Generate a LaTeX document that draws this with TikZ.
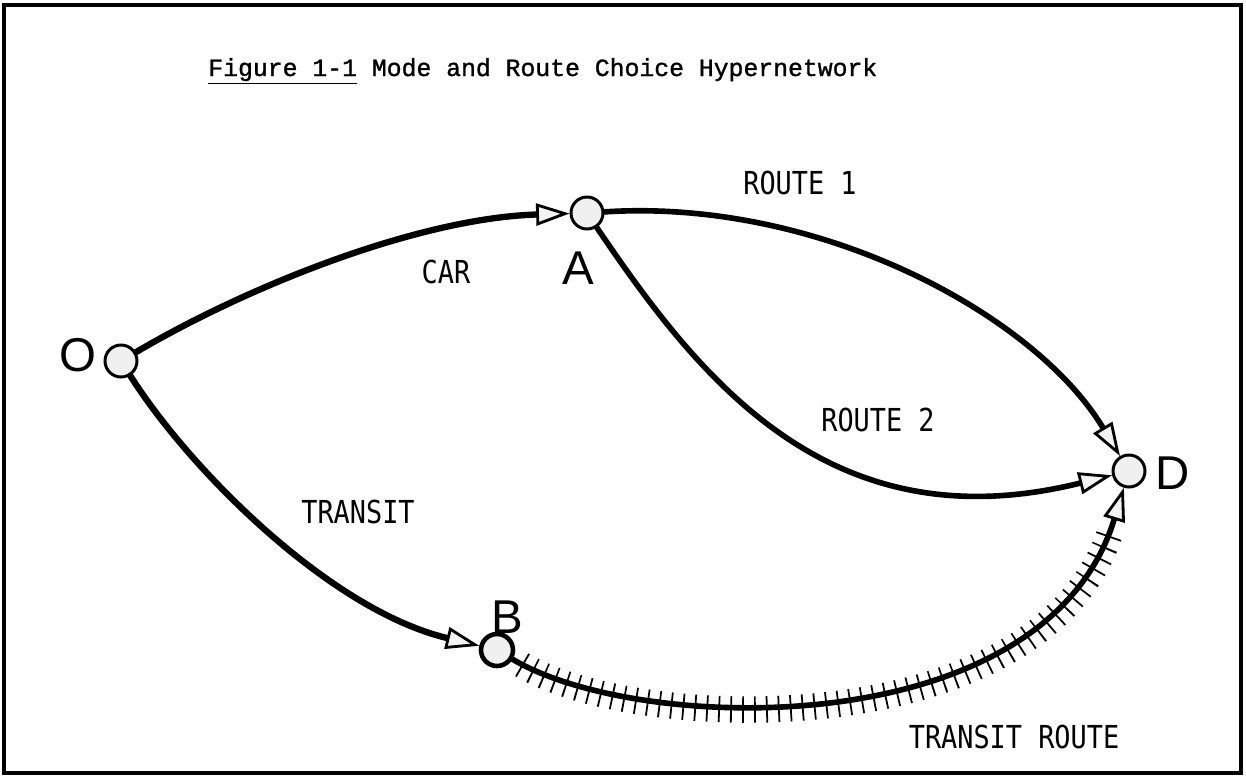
\documentclass[tikz,border=0pt]{standalone}
\usepackage{fontspec}
\setmainfont{Liberation Serif}
\newfontfamily\titlefont[FakeBold=1.2]{Liberation Mono}
\newfontfamily\labelfont[FakeStretch=0.85]{DejaVu Sans Mono}
\newfontfamily\letterfont{Liberation Sans}
\usetikzlibrary{arrows.meta}

\begin{document}
\begin{tikzpicture}[x=0.02cm, y=-0.02cm,
  vertex/.style={circle, draw, line width=1.7pt, fill=gray!12, minimum size=0.64cm, inner sep=0pt},
  edge/.style={line width=3.2pt, line cap=round,
    -{Triangle[length=19pt, width=12.5pt, fill=gray!10, line width=1.6pt]}},
  hatch/.style={line width=15pt, dash pattern=on 1pt off 5.8pt},
  lbl/.style={font=\labelfont\fontsize{18}{20}\selectfont, inner sep=0pt},
  letter/.style={font=\letterfont\fontsize{27}{30}\selectfont, inner sep=0pt},
]
\useasboundingbox (0,0) rectangle (1246,778);

% frame
\draw[line width=2.6pt] (4,5) rectangle (1241,773);

% title
\node[anchor=base west, font=\titlefont\fontsize{14.1}{16}\selectfont, inner sep=0pt]
  (title) at (208,76) {\underline{Figure 1-1} Mode and Route Choice Hypernetwork};

% vertices
\node[vertex] (O) at (121,361) {};
\node[vertex] (A) at (587,213) {};
\node[vertex] (D) at (1129,471) {};
\node[vertex, line width=2.6pt] (B) at (497,650) {};

% vertex letters
\node[letter] (lO) at (78,355) {O};
\node[letter] (lA) at (578,268) {A};
\node[letter] (lB) at (507,617) {B};
\node[letter] (lD) at (1173,473) {D};

% transit route: cross-ties first, rail line on top
\draw[hatch, shorten <=6pt, shorten >=24pt]
  (B) .. controls (640,735) and (1045,745) .. (D);
\draw[edge] (B) .. controls (640,735) and (1045,745) .. (D);

% car and transit access links
\draw[edge, line width=3.6pt] (O) .. controls (250,285) and (420,218) .. (A);
\draw[edge, line width=3.6pt] (O) .. controls (190,470) and (330,610) .. (B);

% highway routes
\draw[edge] (A) .. controls (820,198) and (1035,315) .. (D);
\draw[edge] (A) .. controls (700,380) and (830,545) .. (D);

% link labels
\node[lbl] (car) at (446,272) {CAR};
\node[lbl] (r1) at (800,183) {ROUTE 1};
\node[lbl] (r2) at (878,420) {ROUTE 2};
\node[lbl] (tr) at (358,512) {TRANSIT};
\node[lbl] (trr) at (1014,737) {TRANSIT ROUTE};
\end{tikzpicture}
\end{document}
